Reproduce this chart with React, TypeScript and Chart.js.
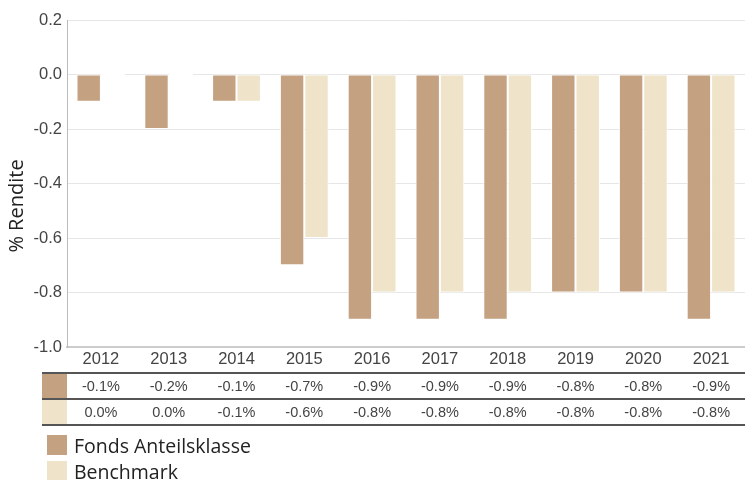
import React, { useEffect, useRef } from "react";
import { Chart, registerables } from "chart.js";

Chart.register(...registerables);

const categories = ["2012", "2013", "2014", "2015", "2016", "2017", "2018", "2019", "2020", "2021"];
const fondsValues = [-0.1, -0.2, -0.1, -0.7, -0.9, -0.9, -0.9, -0.8, -0.8, -0.9];
const benchmarkValues = [0.0, 0.0, -0.1, -0.6, -0.8, -0.8, -0.8, -0.8, -0.8, -0.8];
const seriesNames = ["Fonds Anteilsklasse", "Benchmark"];
const seriesColors = ["#C4A181", "#EFE3C9"];
const yTitle = "% Rendite";

const fmt = (v: number) => v.toFixed(1) + "%";

const tablePlugin = {
  id: "tableLegend",
  afterDraw(chart: any) {
    const ctx = chart.ctx as CanvasRenderingContext2D;
    const xs = chart.scales.x;
    const W = chart.width;
    ctx.save();
    const rowTops = [373, 399];
    const rowH = 26;
    [fondsValues, benchmarkValues].forEach((vals, r) => {
      ctx.fillStyle = seriesColors[r];
      ctx.fillRect(42, rowTops[r] + 1, 25, rowH - 2);
      ctx.fillStyle = "#444";
      ctx.font = "14.5px 'Liberation Sans', Arial, sans-serif";
      ctx.textAlign = "center";
      ctx.textBaseline = "middle";
      vals.forEach((v, i) => {
        ctx.fillText(fmt(v), xs.getPixelForValue(i), rowTops[r] + rowH / 2 + 1);
      });
    });
    ctx.strokeStyle = "#555";
    ctx.lineWidth = 2;
    [373, 399, 425].forEach((y) => {
      ctx.beginPath();
      ctx.moveTo(42, y);
      ctx.lineTo(W, y);
      ctx.stroke();
    });
    ctx.font = "19.5px 'Open Sans', sans-serif";
    ctx.textAlign = "left";
    ctx.textBaseline = "alphabetic";
    seriesNames.forEach((n, i) => {
      const top = 435 + i * 26;
      ctx.fillStyle = seriesColors[i];
      ctx.fillRect(47, top, 20, 20);
      ctx.fillStyle = "#222";
      ctx.fillText(n, 74, top + 18);
    });
    ctx.translate(17, 206);
    ctx.rotate(-Math.PI / 2);
    ctx.font = "20px 'Open Sans', sans-serif";
    ctx.textAlign = "center";
    ctx.textBaseline = "middle";
    ctx.fillStyle = "#222";
    ctx.fillText(yTitle, 0, 0);
    ctx.restore();
  },
};

export default function App() {
  const ref = useRef<HTMLCanvasElement>(null);
  useEffect(() => {
    if (!ref.current) return;
    const common = {
      borderColor: "#ffffff",
      borderWidth: 1,
      borderSkipped: false,
      minBarLength: 2,
      categoryPercentage: 0.72,
      barPercentage: 1,
    };
    const chart = new Chart(ref.current, {
      type: "bar",
      data: {
        labels: categories,
        datasets: [
          { label: seriesNames[0], data: fondsValues, backgroundColor: seriesColors[0], ...common },
          { label: seriesNames[1], data: benchmarkValues, backgroundColor: seriesColors[1], ...common },
        ],
      },
      options: {
        responsive: false,
        animation: false,
        layout: { padding: { top: 20, right: 0, bottom: 0, left: 0 } },
        plugins: { legend: { display: false }, tooltip: { enabled: false } },
        scales: {
          x: {
            grid: { display: false, drawTicks: false },
            border: { display: true, color: "#cccccc", width: 2 },
            ticks: {
              color: "#444",
              padding: 3,
              font: { family: "'Liberation Sans', Arial, sans-serif", size: 16.5 },
            },
            afterFit: (s: any) => {
              s.height = 133;
            },
          },
          y: {
            min: -1.0,
            max: 0.2,
            ticks: {
              stepSize: 0.2,
              color: "#444",
              padding: 5,
              font: { family: "'Liberation Sans', Arial, sans-serif", size: 16.5 },
              callback: (v: any) => {
                const n = Math.round(Number(v) * 10) / 10;
                return (Math.abs(n) < 1e-9 ? 0 : n).toFixed(1);
              },
            },
            grid: { color: "#e6e6e6", drawTicks: false },
            border: { display: true, color: "#bbbbbb", width: 1 },
            afterFit: (s: any) => {
              s.width = 67;
            },
          },
        },
      },
      plugins: [tablePlugin],
    });
    return () => chart.destroy();
  }, []);
  return (
    <div style={{ position: "absolute", left: 0, top: 0, width: 745, height: 480, background: "#fff" }}>
      <canvas ref={ref} width={745} height={480} />
    </div>
  );
}
